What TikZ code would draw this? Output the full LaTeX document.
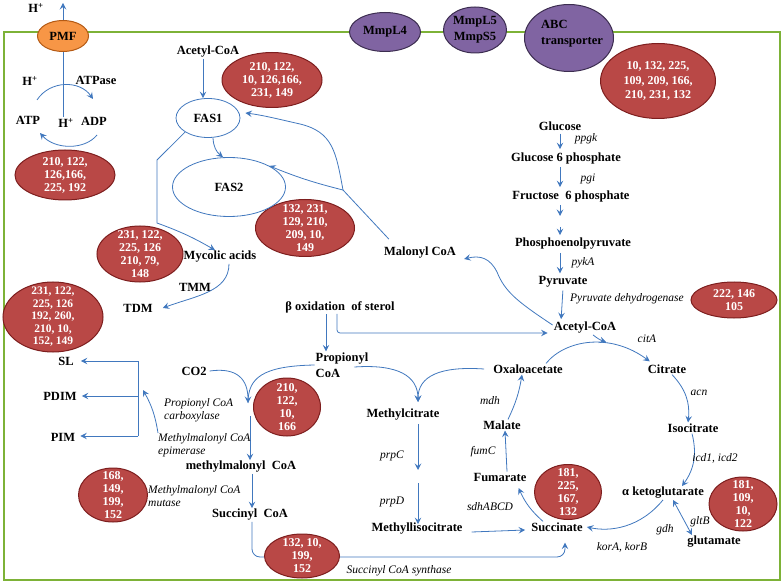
\documentclass[tikz,border=0pt]{standalone}
\usepackage{fontspec}
\setmainfont{Liberation Serif}
\usetikzlibrary{arrows.meta,shapes.geometric,backgrounds}
\definecolor{cblue}{RGB}{65,120,190}
\definecolor{cred}{RGB}{185,72,70}
\definecolor{credb}{RGB}{125,30,30}
\definecolor{cpur}{RGB}{128,100,162}
\definecolor{cpurb}{RGB}{60,45,80}
\definecolor{corg}{RGB}{247,150,70}
\definecolor{corgb}{RGB}{180,90,20}
\definecolor{cgreen}{RGB}{125,178,55}
\newcommand\metfont{\fontsize{12.5}{16}\selectfont\bfseries}
\newcommand\enzfont{\fontsize{11.5}{13}\selectfont\itshape}
\newcommand\redfont{\fontsize{12}{13}\selectfont\bfseries}
\tikzset{
  met/.style={font=\metfont, inner sep=1pt},
  enz/.style={font=\enzfont, inner sep=1pt},
  cline/.style={draw=cblue, line width=0.8pt},
  arr/.style={cline, -{Stealth[length=6.5pt,width=6.5pt,inset=2.5pt]}},
  darr/.style={cline, {Stealth[length=6.5pt,width=6.5pt,inset=2.5pt]}-{Stealth[length=6.5pt,width=6.5pt,inset=2.5pt]}},
  garr/.style={arr, shorten <=2pt, shorten >=2pt},
  redell/.style={ellipse, draw=credb, line width=1pt, fill=cred, inner sep=0pt},
  redtxt/.style={text=white, font=\redfont, align=center, inner sep=0pt},
  purell/.style={ellipse, draw=cpurb, line width=1pt, fill=cpur, inner sep=0pt},
  fasell/.style={ellipse, draw=cblue, line width=0.8pt, fill=white, inner sep=0pt, font=\metfont},
}
\begin{document}
\begin{tikzpicture}[x=1pt,y=-1pt]
\useasboundingbox (0,0) rectangle (784,585);

% ---------- red ellipses ----------
\node[redell, minimum width=100pt, minimum height=50pt] (r1) at (65,175) {};
\node[redtxt] (r1t) at (r1) {210, 122,\\126,166,\\225, 192};
\node[redell, minimum width=100pt, minimum height=55pt] (r2) at (272,80) {};
\node[redtxt] (r2t) at (r2) {210, 122,\\10, 126,166,\\231, 149};
\node[redell, minimum width=115pt, minimum height=75pt] (r3) at (658,81) {};
\node[redtxt, font=\fontsize{12}{14.5}\selectfont\bfseries] (r3t) at (r3) {10, 132, 225,\\109, 209, 166,\\210, 231, 132};
\node[redell, minimum width=86pt, minimum height=56pt] (r4) at (140,254) {};
\node[redtxt] (r4t) at (r4) {231, 122,\\225, 126\\210, 79,\\148};
\node[redell, minimum width=99pt, minimum height=57pt] (r5) at (305,228) {};
\node[redtxt] (r5t) at (r5) {132, 231,\\129, 210,\\209, 10,\\149};
\node[redell, minimum width=100pt, minimum height=70pt] (r6) at (53,317) {};
\node[redtxt, font=\fontsize{11.5}{12.5}\selectfont\bfseries] (r6t) at (r6) {231, 122,\\225, 126\\192, 260,\\210, 10,\\152, 149};
\node[redell, minimum width=86pt, minimum height=36pt] (r7) at (734,300) {};
\node[redtxt] (r7t) at (r7) {222, 146\\105};
\node[redell, minimum width=67pt, minimum height=58pt] (r8) at (287,407) {};
\node[redtxt] (r8t) at (r8) {210,\\122,\\10,\\166};
\node[redell, minimum width=69pt, minimum height=54pt] (r9) at (113,495) {};
\node[redtxt] (r9t) at (r9) {168,\\149,\\199,\\152};
\node[redell, minimum width=75pt, minimum height=44pt] (r10) at (302,556) {};
\node[redtxt] (r10t) at (r10) {132, 10,\\199,\\152};
\node[redell, minimum width=67pt, minimum height=55pt] (r11) at (568,492) {};
\node[redtxt] (r11t) at (r11) {181,\\225,\\167,\\132};
\node[redell, minimum width=68pt, minimum height=54pt] (r12) at (743,504) {};
\node[redtxt] (r12t) at (r12) {181,\\109,\\10,\\122};

% ---------- membrane proteins ----------
\node[ellipse, draw=corgb, fill=corg, line width=1pt, minimum width=51pt, minimum height=31pt, inner sep=0pt, font=\metfont] (pmf) at (63,36) {PMF};
\node[purell, minimum width=71pt, minimum height=39pt] (p1) at (385,32) {};
\node[met] (p1t) at (p1) {MmpL4};
\node[purell, minimum width=63pt, minimum height=46pt] (p2) at (475,30) {};
\node[met, align=center] (p2t) at (p2) {MmpL5\\MmpS5};
\node[purell, minimum width=89pt, minimum height=67pt] (p3) at (569,38) {};
\node[met, align=left, anchor=west] (p3t) at (540,34) {ABC\\transporter};

% ---------- FAS ----------
\node[fasell, minimum width=64pt, minimum height=39pt] (fas1) at (208,118) {FAS1};
\node[fasell, minimum width=113pt, minimum height=59pt] (fas2) at (229,187) {FAS2};

% ---------- text nodes ----------
\node[met] (hp1) at (36,8) {H\textsuperscript{+}};
\node[met] (hp2) at (30,81) {H\textsuperscript{+}};
\node[met] (atpase) at (96,80) {ATPase};
\node[met] (atp) at (28,120) {ATP};
\node[met] (hp3) at (66,123) {H\textsuperscript{+}};
\node[met] (adp) at (94,121) {ADP};

\node[met] (acoa1) at (208,52) {Acetyl-CoA};
\node[met] (myc) at (220,257) {Mycolic acids};
\node[met] (tmm) at (195,287) {TMM};
\node[met] (tdm) at (138,308) {TDM};
\node[met] (mal) at (420,253) {Malonyl CoA};

\node[met] (glc) at (560,126) {Glucose};
\node[met] (g6p) at (566,158) {Glucose 6 phosphate};
\node[met] (f6p) at (571,196) {Fructose~ 6 phosphate};
\node[met] (pep) at (573,244) {Phosphoenolpyruvate};
\node[met] (pyr) at (563,282) {Pyruvate};
\node[met] (acoa2) at (585,328) {Acetyl-CoA};
\node[enz] (ppgk) at (586,139) {ppgk};
\node[enz] (pgi) at (588,179) {pgi};
\node[enz] (pyka) at (583,263) {pykA};
\node[enz] (pdh) at (627,299) {Pyruvate dehydrogenase};

\node[met] (boxs) at (340,307) {β oxidation~ of sterol};
\node[met, align=left, font=\fontsize{12.5}{16}\selectfont\bfseries] (prop) at (342,365) {Propionyl\\CoA};
\node[met] (co2) at (194,371) {CO2};
\node[met] (sl) at (66,361) {SL};
\node[met] (pdim) at (60,396) {PDIM};
\node[met] (pim) at (63,437) {PIM};
\node[enz, align=left, anchor=west] (pcc) at (163,410) {Propionyl CoA\\carboxylase};
\node[enz, align=left, anchor=west] (mce) at (157,445) {Methylmalonyl CoA\\epimerase};
\node[enz, align=left, anchor=west] (mcm) at (147,496) {Methylmalonyl CoA\\mutase};
\node[met] (mmc) at (241,467) {methylmalonyl~ CoA};
\node[met] (succoa) at (250,515) {Succinyl~ CoA};
\node[enz] (scs) at (399,571) {Succinyl CoA synthase};

\node[met] (mc) at (403,415) {Methylcitrate};
\node[enz] (prpc) at (392,456) {prpC};
\node[enz] (prpd) at (392,502) {prpD};
\node[met] (mic) at (417,529) {Methyllisocitrate};
\node[enz] (sdh) at (490,507) {sdhABCD};

\node[met] (oxa) at (528,369) {Oxaloacetate};
\node[met] (malate) at (502,425) {Malate};
\node[enz] (mdh) at (490,401) {mdh};
\node[met] (fum) at (500,477) {Fumarate};
\node[enz] (fumc) at (483,452) {fumC};
\node[met] (succ) at (557,527) {Succinate};

\node[enz] (cita) at (647,339) {citA};
\node[met] (cit) at (667,369) {Citrate};
\node[enz] (acn) at (699,393) {acn};
\node[met] (iso) at (693,428) {Isocitrate};
\node[enz] (icd) at (715,458) {icd1, icd2};
\node[met] (akg) at (663,493) {α ketoglutarate};
\node[enz] (gltb) at (700,522) {gltB};
\node[enz] (gdh) at (665,530) {gdh};
\node[met] (glu) at (714,542) {glutamate};
\node[enz] (kor) at (622,547) {korA, korB};

% ---------- free ends ----------
\coordinate (ptop) at (63,3);
\coordinate (a1s) at (37,100);
\coordinate (a1e) at (93,99);
\coordinate (a2s) at (97,135);
\coordinate (a2e) at (40,133);
\coordinate (fk1) at (157,160);
\coordinate (fk2) at (157,223);
\coordinate (mj) at (343,190);
\coordinate (gm1) at (560,218);
\coordinate (gm2) at (560,225);
\coordinate (mcin) at (418,402);
\coordinate (mcm1) at (418,472);
\coordinate (mcm2) at (418,483);
\coordinate (co2in) at (248,403);
\coordinate (mmtop) at (250,416);
\coordinate (bt) at (138,361);
\coordinate (bb) at (138,436);
\coordinate (epis) at (158,433);
\coordinate (epie) at (143,390);
\coordinate (arcj) at (606,342);

\begin{pgfonlayer}{background}
\draw[cgreen, line width=2.5pt] (4,32) rectangle (780,580);

% PMF / ATPase
\draw[arr] (hp3.north -| pmf.center) -- (ptop);
\draw[arr] (a1s) .. controls (50,80) and (80,80) .. (a1e);
\draw[arr] (a2s) .. controls (85,150) and (55,150) .. (a2e);

% FAS
\draw[arr] ([xshift=-5pt]acoa1.south) -- ([xshift=-5pt]fas1.north);
\draw[arr] ([xshift=5pt]fas1.south) to[bend right=25] ([xshift=-6pt]fas2.north);
\draw[arr] (fas1.south west) -- (fk1) -- (fk2) to[bend left=5] ([xshift=-5pt]myc.north);
\draw[cline] ([shift={(6,-7)}]mal.north west) -- (mj);
\draw[arr] (mj) .. controls (336,152) and (333,132) .. (300,124) .. controls (278,119) and (262,115) .. ([shift={(5,-5)}]fas1.east);
\draw[arr] (mj) to[bend left=4] (fas2.north east);
\draw[arr] ([xshift=9pt]myc.south) .. controls (229,292) and (195,296) .. ([xshift=9pt]tdm.east);

% glycolysis
\draw[garr] (glc.south) -- (glc.south |- g6p.north);
\draw[garr] (glc.south |- g6p.south) -- (glc.south |- f6p.north);
\draw[garr] (glc.south |- f6p.south) -- (gm1);
\draw[garr] (gm2) -- (glc.south |- pep.north);
\draw[garr] (glc.south |- pep.south) -- (glc.south |- pyr.north);
\draw[garr] (pyr.south) -- ([xshift=-24pt]acoa2.north);
\draw[arr] ([yshift=3pt]acoa2.west) .. controls (518,302) and (505,292) .. (497,272) .. controls (490,258) and (480,255) .. ([shift={(7,6)}]mal.east);

% beta oxidation
\draw[arr] ([xshift=-14pt]boxs.south) -- ([xshift=-16pt]prop.north);
\draw[arr, rounded corners=3pt] ([xshift=-3pt]boxs.south) |- ([shift={(-5,5)}]acoa2.west);

% methylcitrate cycle
\draw[arr] ([shift={(-15,2)}]prop.east) .. controls (398,364) and (418,376) .. (mcin);
\draw[arr] ([xshift=-8pt]oxa.west) .. controls (440,366) and (418,376) .. (mcin);
\draw[garr] ([xshift=15pt]mc.south) -- (mcm1);
\draw[arr] (mcm2) -- ([xshift=1pt,yshift=-2pt]mic.north);
\draw[arr] ([shift={(8,3)}]mic.east) -- ([shift={(-5,3)}]succ.west);

% TCA
\draw[arr] ([xshift=6pt]malate.north) to[bend right=8] ([xshift=-6pt]oxa.south);
\draw[arr] ([xshift=7pt]fum.north) -- ([xshift=3pt]malate.south);
\draw[arr] ([xshift=-14pt]succ.north) to[bend left=12] ([shift={(-9,11)}]fum.east);
\draw[arr] ([xshift=18pt]oxa.north) .. controls (565,340) and (610,332) .. ([shift={(3,-2)}]cit.north west);
\draw[arr] ([xshift=8pt]acoa2.south) to[bend right=10] (arcj);
\draw[arr] ([xshift=5pt]cit.south) to[bend left=25] ([xshift=-5pt]iso.north);
\draw[arr] ([xshift=-1pt]iso.south) to[bend left=25] ([xshift=19pt]akg.north);
\draw[arr] (akg.south) .. controls (640,528) and (610,532) .. ([xshift=3pt]succ.east);
\draw[darr] ([xshift=10pt]akg.south) -- ([xshift=-22pt]glu.north);

% propionyl -> succinyl CoA
\draw[arr] ([xshift=2pt]co2.east) .. controls (238,367) and (248,380) .. (co2in);
\draw[cline] (prop.west) .. controls (262,366) and (248,378) .. (co2in);
\draw[arr] (mmtop) -- ([xshift=9pt]mmc.north);
\draw[arr] ([xshift=11pt]mmc.south) -- ([xshift=2pt]succoa.north);
\draw[arr, rounded corners=8pt] ([xshift=2pt]succoa.south) |- (565,557) -- ([shift={(8,10)}]succ.south);

% lipids bracket
\draw[cline] (bt) -- (bb);
\draw[arr] (bt) -- ([xshift=6pt]sl.east);
\draw[arr] (pdim.east -| bt) -- ([xshift=4pt]pdim.east);
\draw[arr] (bb) -- ([xshift=4pt]pim.east |- bb);
\draw[arr] (epis) to[bend right=10] (epie);
\end{pgfonlayer}
\end{tikzpicture}
\end{document}
